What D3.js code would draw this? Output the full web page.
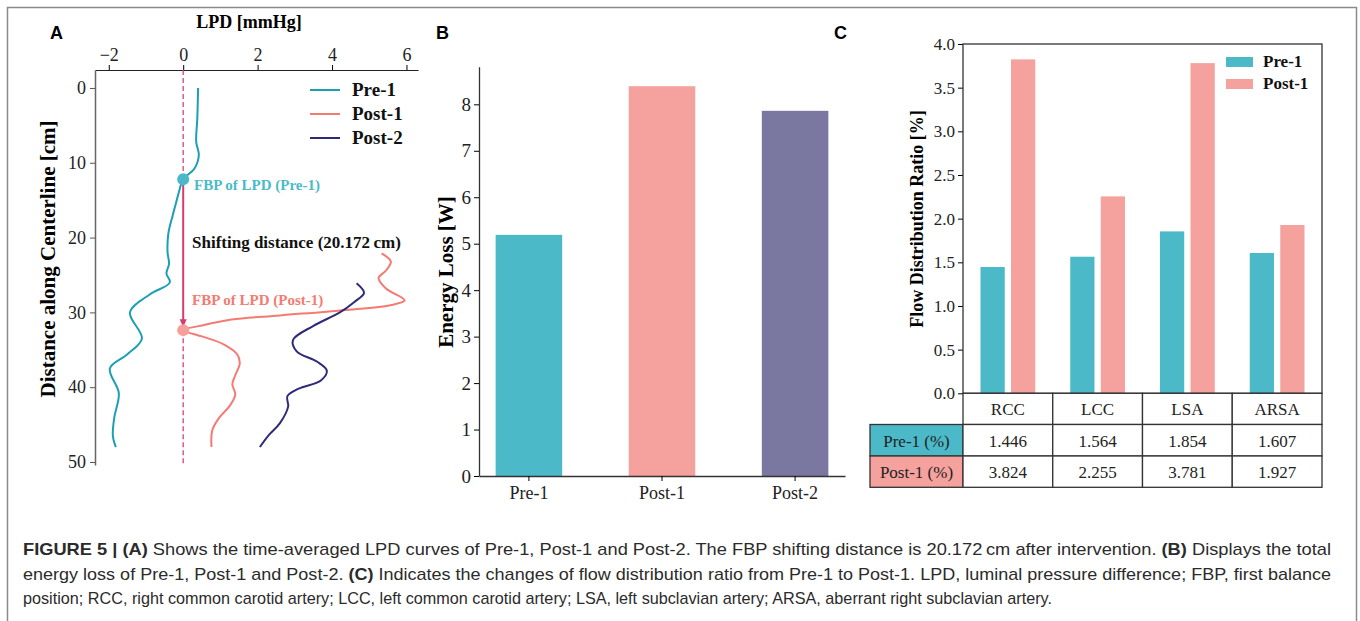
<!DOCTYPE html>
<html>
<head>
<meta charset="utf-8">
<script src="https://cdn.jsdelivr.net/npm/d3@7"></script>
<style>
  body { margin: 0; background: #fff; }
  svg text { font-family: "Liberation Serif", "Times New Roman", serif; }
  .letter { font-family: "Liberation Sans", Arial, sans-serif !important; font-weight: bold; font-size: 18px; }
  .cap { font-family: "Liberation Sans Narrow", "Liberation Sans", Arial, sans-serif !important; font-size: 17px; fill: #2b2b2b; }
</style>
</head>
<body>
<div id="fig"></div>
<script>
// ---- panel A: time-averaged LPD curves [LPD mmHg, distance cm]
var pre1 = [[0.40,0],[0.38,4],[0.35,7.2],[0.42,9.0],[0.30,10.8],[0,12.2],[-0.12,14],[-0.2,15.5],
  [-0.28,17],[-0.40,19.5],[-0.42,22],[-0.38,23.5],[-0.45,24.8],[-0.36,26.0],[-0.9,27.6],[-1.43,30.0],
  [-1.11,33.5],[-1.5,35.6],[-1.97,37.5],[-1.73,40.8],[-1.85,44],[-1.89,46.5],[-1.81,48]];
var post1 = [[5.33,22.1],[5.58,23.2],[5.45,24.4],[5.25,25.4],[5.45,26.8],[5.95,28.4],[5.6,29.0],
  [4.3,29.7],[2.6,30.4],[1.3,30.95],[0.45,31.8],[0,32.372],[0.5,33.2],[1.1,34.3],[1.45,35.6],
  [1.52,36.8],[1.4,38.4],[1.32,39.6],[1.4,41.0],[1.25,42.5],[0.95,44.2],[0.78,45.8],[0.76,48]];
var post2 = [[4.66,26.1],[4.86,27.4],[4.6,28.6],[4.21,30],[3.5,31.8],[2.95,33.7],[3.05,35.2],
  [3.6,36.6],[3.86,37.8],[3.7,39.1],[3.1,40.2],[2.8,41.2],[2.82,42.6],[2.6,44.8],[2.3,46.4],[2.06,48]];
var fbpPre = 12.2, fbpPost = 32.372;
var lpdTicks = [-2, 0, 2, 4, 6];
var distTicks = [0, 10, 20, 30, 40, 50];

// ---- panel B: energy loss
var energyCases = ["Pre-1", "Post-1", "Post-2"];
var energyLoss = [5.19, 8.39, 7.86];
var energyTicks = [0, 1, 2, 3, 4, 5, 6, 7, 8];

// ---- panel C: flow distribution ratio
var branches = ["RCC", "LCC", "LSA", "ARSA"];
var flowPre1 = [1.446, 1.564, 1.854, 1.607];
var flowPost1 = [3.824, 2.255, 3.781, 1.927];
var flowTicks = [0, 0.5, 1, 1.5, 2, 2.5, 3, 3.5, 4];

var colPre = "#1c9fb3", colPost1 = "#f47a72", colPost2 = "#2e2c78";
var barPre = "#4cb9c8", barPost1 = "#f5a19d", barPost2 = "#7a77a1";

var svg = d3.select("#fig").append("svg").attr("width", 1360).attr("height", 621);

// figure frame
svg.append("rect").attr("x", 7.5).attr("y", 7.5).attr("width", 1349).attr("height", 640)
  .attr("fill", "none").attr("stroke", "#8a8a8a").attr("stroke-width", 1.5);

// ================= A =================
var xA = d3.scaleLinear().domain([-2.37, 6.31]).range([95, 418]);
var yA = d3.scaleLinear().domain([-2.4, 50.4]).range([70, 465]);
var gA = svg.append("g");

gA.append("text").attr("class", "letter").attr("x", 50).attr("y", 39).text("A");

var axTop = gA.append("g").attr("transform", "translate(0,70)")
  .call(d3.axisTop(xA).tickValues(lpdTicks).tickSize(5).tickPadding(4).tickSizeOuter(0));
axTop.select(".domain").attr("stroke", "#222").attr("stroke-width", 1.2);
axTop.selectAll("text").attr("font-size", 18).attr("fill", "#222");

var axLeft = gA.append("g").attr("transform", "translate(95,0)")
  .call(d3.axisLeft(yA).tickValues(distTicks).tickSize(5).tickPadding(4).tickSizeOuter(0));
axLeft.select(".domain").attr("stroke", "#666").attr("stroke-width", 1.5);
axLeft.selectAll(".tick line").attr("stroke", "#555");
axLeft.selectAll("text").attr("font-size", 18).attr("fill", "#222");

gA.append("text").attr("x", 249).attr("y", 28).attr("text-anchor", "middle")
  .attr("font-size", 18).attr("font-weight", "bold").text("LPD [mmHg]");
gA.append("text").attr("transform", "translate(55,259) rotate(-90)").attr("text-anchor", "middle")
  .attr("font-size", 21).attr("font-weight", "bold").text("Distance along Centerline [cm]");

// zero line: dashed above / below, solid arrow between the two FBPs
var lineCol = "#d8437a";
gA.append("line").attr("x1", xA(0)).attr("x2", xA(0)).attr("y1", yA(-2.4)).attr("y2", yA(fbpPre))
  .attr("stroke", lineCol).attr("stroke-width", 1.3).attr("stroke-dasharray", "5,3");
gA.append("line").attr("x1", xA(0)).attr("x2", xA(0)).attr("y1", yA(fbpPost)).attr("y2", yA(50.4))
  .attr("stroke", lineCol).attr("stroke-width", 1.3).attr("stroke-dasharray", "5,3");
gA.append("line").attr("x1", xA(0)).attr("x2", xA(0)).attr("y1", yA(fbpPre)).attr("y2", yA(fbpPost) - 9)
  .attr("stroke", "#d63c72").attr("stroke-width", 2);
gA.append("path")
  .attr("d", "M" + (xA(0) - 3.5) + "," + (yA(fbpPost) - 11) + "L" + (xA(0) + 3.5) + "," + (yA(fbpPost) - 11) + "L" + xA(0) + "," + (yA(fbpPost) - 3) + "Z")
  .attr("fill", "#d63c72");

var line = d3.line().x(function(d) { return xA(d[0]); }).y(function(d) { return yA(d[1]); })
  .curve(d3.curveCatmullRom.alpha(0.5));
[[pre1, colPre], [post1, colPost1], [post2, colPost2]].forEach(function(s) {
  gA.append("path").datum(s[0]).attr("d", line).attr("fill", "none")
    .attr("stroke", s[1]).attr("stroke-width", 2);
});

gA.append("circle").attr("cx", xA(0)).attr("cy", yA(fbpPre)).attr("r", 6).attr("fill", "#4bbac8");
gA.append("circle").attr("cx", xA(0)).attr("cy", yA(fbpPost)).attr("r", 6).attr("fill", "#f5a09b");

gA.append("text").attr("x", 194).attr("y", 190).attr("font-size", 15)
  .attr("font-weight", "bold").attr("fill", "#4bbac8").text("FBP of LPD (Pre-1)");
gA.append("text").attr("x", 192).attr("y", 248).attr("font-size", 17)
  .attr("font-weight", "bold").attr("fill", "#111").text("Shifting distance (20.172\u2009cm)");
gA.append("text").attr("x", 192).attr("y", 305).attr("font-size", 15)
  .attr("font-weight", "bold").attr("fill", "#f47a72").text("FBP of LPD (Post-1)");

var legA = [["Pre-1", colPre], ["Post-1", colPost1], ["Post-2", colPost2]];
legA.forEach(function(d, i) {
  var y = 90 + i * 24;
  gA.append("line").attr("x1", 310).attr("x2", 340).attr("y1", y).attr("y2", y)
    .attr("stroke", d[1]).attr("stroke-width", 2);
  gA.append("text").attr("x", 352).attr("y", y + 6).attr("font-size", 19)
    .attr("font-weight", "bold").attr("fill", "#111").text(d[0]);
});

// ================= B =================
var xB = d3.scaleBand().domain(energyCases).range([479, 845]).paddingInner(0.5).paddingOuter(0.125);
var yB = d3.scaleLinear().domain([0, 8.81]).range([476, 66.7]);
var gB = svg.append("g");
gB.append("text").attr("class", "letter").attr("x", 436).attr("y", 39).text("B");

gB.selectAll("rect.bar").data(energyLoss).enter().append("rect").attr("class", "bar")
  .attr("x", function(d, i) { return xB(energyCases[i]); })
  .attr("width", xB.bandwidth())
  .attr("y", function(d) { return yB(d); })
  .attr("height", function(d) { return yB(0) - yB(d); })
  .attr("fill", function(d, i) { return [barPre, barPost1, barPost2][i]; });

var axBx = gB.append("g").attr("transform", "translate(0,476)")
  .call(d3.axisBottom(xB).tickSize(5).tickPadding(5).tickSizeOuter(0));
axBx.select(".domain").attr("stroke", "#333").attr("stroke-width", 1.3);
axBx.selectAll("text").attr("font-size", 18).attr("fill", "#222");
var axBy = gB.append("g").attr("transform", "translate(479,0)")
  .call(d3.axisLeft(yB).tickValues(energyTicks).tickSize(5).tickPadding(3).tickSizeOuter(0));
axBy.select(".domain").attr("stroke", "#333").attr("stroke-width", 1.3);
axBy.selectAll("text").attr("font-size", 19).attr("fill", "#222");
gB.append("text").attr("transform", "translate(453,272) rotate(-90)").attr("text-anchor", "middle")
  .attr("font-size", 21).attr("font-weight", "bold").text("Energy Loss [W]");

// ================= C =================
var xC = d3.scaleBand().domain(branches).range([963, 1322]);
var yC = d3.scaleLinear().domain([0, 4]).range([393.3, 44]);
var gC = svg.append("g");
gC.append("text").attr("class", "letter").attr("x", 834).attr("y", 39).text("C");

var bw = xC.bandwidth() * 0.27, off = xC.bandwidth() * 0.17;
[[flowPre1, barPre, -1], [flowPost1, barPost1, 1]].forEach(function(s) {
  gC.selectAll(null).data(s[0]).enter().append("rect")
    .attr("x", function(d, i) { return xC(branches[i]) + xC.bandwidth() / 2 + s[2] * off - bw / 2; })
    .attr("width", bw)
    .attr("y", function(d) { return yC(d); })
    .attr("height", function(d) { return yC(0) - yC(d); })
    .attr("fill", s[1]);
});

var axCy = gC.append("g").attr("transform", "translate(963,0)")
  .call(d3.axisLeft(yC).tickValues(flowTicks).tickFormat(d3.format(".1f")).tickSize(5).tickPadding(3).tickSizeOuter(0));
axCy.select(".domain").remove();
axCy.selectAll("text").attr("font-size", 17).attr("fill", "#222");
gC.append("rect").attr("x", 963).attr("y", 44).attr("width", 1322 - 963).attr("height", 393.3 - 44)
  .attr("fill", "none").attr("stroke", "#333").attr("stroke-width", 1.3);
gC.append("text").attr("transform", "translate(923,219) rotate(-90)").attr("text-anchor", "middle")
  .attr("font-size", 18).attr("font-weight", "bold").text("Flow Distribution Ratio [%]");

[["Pre-1", barPre], ["Post-1", barPost1]].forEach(function(d, i) {
  var y = 57 + i * 22;
  gC.append("rect").attr("x", 1226).attr("y", y).attr("width", 27).attr("height", 10).attr("fill", d[1]);
  gC.append("text").attr("x", 1263).attr("y", y + 10).attr("font-size", 17)
    .attr("font-weight", "bold").attr("fill", "#111").text(d[0]);
});

// table under panel C
var rowTops = [393.3, 424.5, 456, 487.3];
var rows = [["Pre-1 (%)", barPre, flowPre1], ["Post-1 (%)", barPost1, flowPost1]];
var tb = gC.append("g").attr("stroke", "#333").attr("stroke-width", 1.3);
branches.forEach(function(b) {
  tb.append("rect").attr("x", xC(b)).attr("y", rowTops[0]).attr("width", xC.bandwidth())
    .attr("height", rowTops[1] - rowTops[0]).attr("fill", "#fff");
  gC.append("text").attr("x", xC(b) + xC.bandwidth() / 2).attr("y", rowTops[0] + 22)
    .attr("text-anchor", "middle").attr("font-size", 17).attr("fill", "#222").text(b);
});
rows.forEach(function(r, ri) {
  var y0 = rowTops[ri + 1], h = rowTops[ri + 2] - y0;
  tb.append("rect").attr("x", 870).attr("y", y0).attr("width", 963 - 870).attr("height", h).attr("fill", r[1]);
  gC.append("text").attr("x", 916.5).attr("y", y0 + 22).attr("text-anchor", "middle")
    .attr("font-size", 17).attr("fill", "#222").text(r[0]);
  branches.forEach(function(b, i) {
    tb.append("rect").attr("x", xC(b)).attr("y", y0).attr("width", xC.bandwidth()).attr("height", h).attr("fill", "#fff");
    gC.append("text").attr("x", xC(b) + xC.bandwidth() / 2).attr("y", y0 + 22)
      .attr("text-anchor", "middle").attr("font-size", 17).attr("fill", "#222").text(d3.format(".3f")(r[2][i]));
  });
});

// ================= caption =================
var capLines = [
  [[["FIGURE 5 | (A)", true], [" Shows the time-averaged LPD curves of Pre-1, Post-1 and Post-2. The FBP shifting distance is 20.172\u2009cm after intervention. ", false], ["(B)", true], [" Displays the total", false]], 1308],
  [[["energy loss of Pre-1, Post-1 and Post-2. ", false], ["(C)", true], [" Indicates the changes of flow distribution ratio from Pre-1 to Post-1. LPD, luminal pressure difference; FBP, first balance", false]], 1308],
  [[["position; RCC, right common carotid artery; LCC, left common carotid artery; LSA, left subclavian artery; ARSA, aberrant right subclavian artery.", false]], 1029]
];
capLines.forEach(function(l, i) {
  var t = svg.append("text").attr("class", "cap").attr("x", 23).attr("y", 555 + i * 24.5)
    .attr("textLength", l[1]).attr("lengthAdjust", "spacingAndGlyphs");
  l[0].forEach(function(p) {
    t.append("tspan").attr("font-weight", p[1] ? "bold" : "normal").text(p[0]);
  });
});
</script>
</body>
</html>
